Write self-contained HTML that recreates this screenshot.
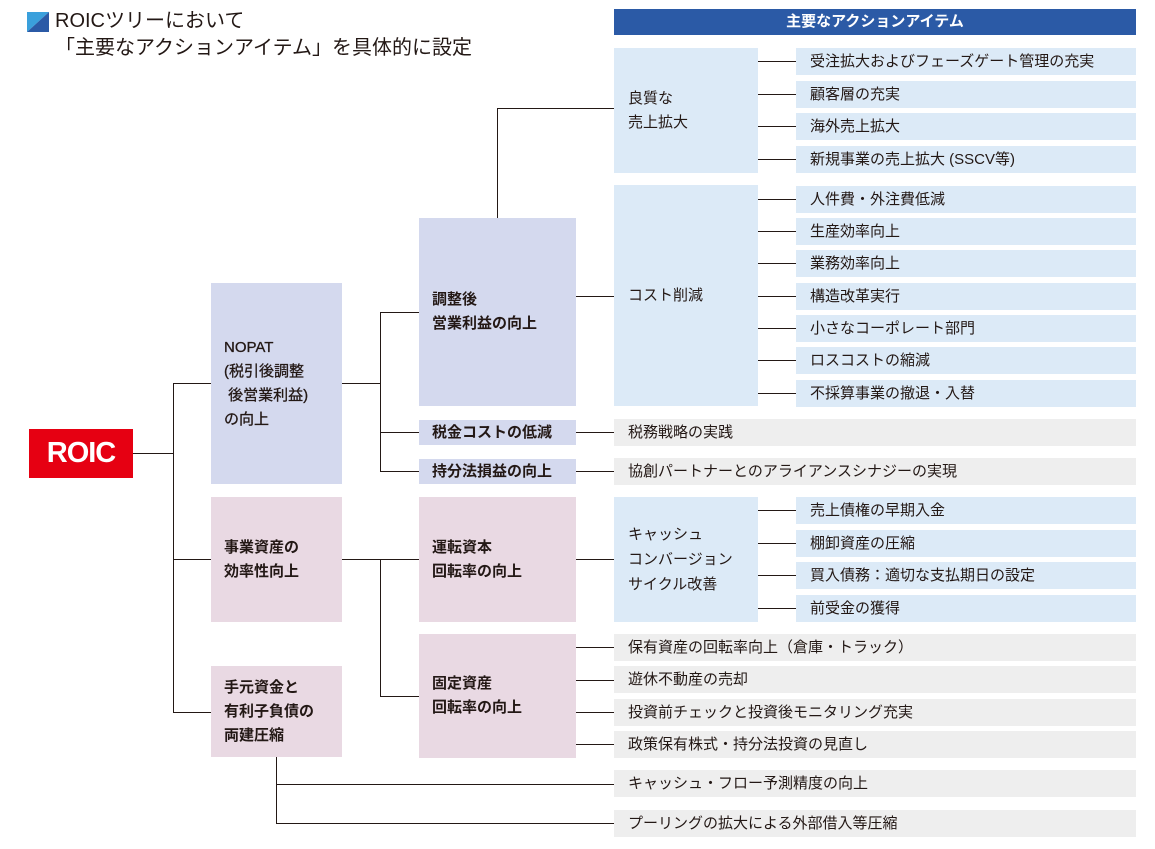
<!DOCTYPE html>
<html><head><meta charset="utf-8">
<style>
*{margin:0;padding:0;box-sizing:border-box}
body{width:1155px;height:849px;background:#fff;position:relative;overflow:hidden;font-family:"Liberation Sans","Noto Sans CJK JP",sans-serif;color:#231815}
.a{position:absolute}
.it{position:absolute;height:27px;line-height:27px;font-size:15px;padding-left:14px;white-space:nowrap}
.b{background:#dceaf7}
.g{background:#eeeeee}
.p{background:#d4d9ee}
.k{background:#e9d9e3}
.bx{position:absolute;font-size:15px;font-weight:bold;line-height:24px;padding-left:13px;display:flex;flex-direction:column;justify-content:center}
.bn{position:absolute;font-size:15px;line-height:24px;padding-left:14px;display:flex;flex-direction:column;justify-content:center}
.h{position:absolute;height:1.3px;background:#231815}
.v{position:absolute;width:1.3px;background:#231815}
</style></head><body>
<svg class="a" style="left:27px;top:12px" width="22" height="20"><polygon points="0,0 22,0 0,20" fill="#3aa0dc"/><polygon points="22,0 22,20 0,20" fill="#2b5aa6"/></svg>
<div class="a" style="left:55px;top:8px;font-size:20px;line-height:27px">ROICツリーにおいて<br>「主要なアクションアイテム」を具体的に設定</div>

<div class="a" style="left:614px;top:9px;width:522px;height:26px;background:#2b5aa6;color:#fff;font-weight:bold;font-size:15px;line-height:26px;text-align:center">主要なアクションアイテム</div>

<div class="bn b" style="left:614px;top:48px;width:144px;height:125px">良質な<br>売上拡大</div>
<div class="it b" style="left:796px;top:48px;width:340px">受注拡大およびフェーズゲート管理の充実</div>
<div class="it b" style="left:796px;top:81px;width:340px">顧客層の充実</div>
<div class="it b" style="left:796px;top:113px;width:340px">海外売上拡大</div>
<div class="it b" style="left:796px;top:146px;width:340px">新規事業の売上拡大 (SSCV等)</div>

<div class="bn b" style="left:614px;top:185px;width:144px;height:221px">コスト削減</div>
<div class="it b" style="left:796px;top:186px;width:340px">人件費・外注費低減</div>
<div class="it b" style="left:796px;top:218px;width:340px">生産効率向上</div>
<div class="it b" style="left:796px;top:250px;width:340px">業務効率向上</div>
<div class="it b" style="left:796px;top:283px;width:340px">構造改革実行</div>
<div class="it b" style="left:796px;top:315px;width:340px">小さなコーポレート部門</div>
<div class="it b" style="left:796px;top:347px;width:340px">ロスコストの縮減</div>
<div class="it b" style="left:796px;top:380px;width:340px">不採算事業の撤退・入替</div>

<div class="it g" style="left:614px;top:419px;width:522px">税務戦略の実践</div>
<div class="it g" style="left:614px;top:458px;width:522px">協創パートナーとのアライアンスシナジーの実現</div>

<div class="bn b" style="left:614px;top:497px;width:144px;height:125px;line-height:25px">キャッシュ<br>コンバージョン<br>サイクル改善</div>
<div class="it b" style="left:796px;top:497px;width:340px">売上債権の早期入金</div>
<div class="it b" style="left:796px;top:530px;width:340px">棚卸資産の圧縮</div>
<div class="it b" style="left:796px;top:562px;width:340px">買入債務：適切な支払期日の設定</div>
<div class="it b" style="left:796px;top:595px;width:340px">前受金の獲得</div>

<div class="it g" style="left:614px;top:634px;width:522px">保有資産の回転率向上（倉庫・トラック）</div>
<div class="it g" style="left:614px;top:666px;width:522px">遊休不動産の売却</div>
<div class="it g" style="left:614px;top:699px;width:522px">投資前チェックと投資後モニタリング充実</div>
<div class="it g" style="left:614px;top:731px;width:522px">政策保有株式・持分法投資の見直し</div>
<div class="it g" style="left:614px;top:770px;width:522px">キャッシュ・フロー予測精度の向上</div>
<div class="it g" style="left:614px;top:810px;width:522px">プーリングの拡大による外部借入等圧縮</div>

<!-- level 2 -->
<div class="bx p" style="left:419px;top:218px;width:157px;height:188px">調整後<br>営業利益の向上</div>
<div class="bx p" style="left:419px;top:420px;width:157px;height:25px">税金コストの低減</div>
<div class="bx p" style="left:419px;top:459px;width:157px;height:25px">持分法損益の向上</div>
<div class="bx k" style="left:419px;top:497px;width:157px;height:125px">運転資本<br>回転率の向上</div>
<div class="bx k" style="left:419px;top:634px;width:157px;height:124px">固定資産<br>回転率の向上</div>

<!-- level 1 -->
<div class="bx p" style="left:211px;top:283px;width:131px;height:201px;font-weight:normal;-webkit-text-stroke:0.3px #231815">NOPAT<br>(税引後調整<br>&nbsp;後営業利益)<br>の向上</div>
<div class="bx k" style="left:211px;top:497px;width:131px;height:125px">事業資産の<br>効率性向上</div>
<div class="bx k" style="left:211px;top:666px;width:131px;height:91px">手元資金と<br>有利子負債の<br>両建圧縮</div>

<div class="a" style="left:29px;top:429px;width:104px;height:49px;background:#e60012;color:#fff;font-weight:bold;font-size:29px;line-height:49px;text-align:center;letter-spacing:-1px">ROIC</div>

<!-- connectors -->
<div class="h" style="left:133px;top:453px;width:40px"></div>
<div class="v" style="left:173px;top:383px;height:330px"></div>
<div class="h" style="left:173px;top:383px;width:38px"></div>
<div class="h" style="left:173px;top:559px;width:38px"></div>
<div class="h" style="left:173px;top:712px;width:38px"></div>

<div class="h" style="left:342px;top:383px;width:38px"></div>
<div class="v" style="left:380px;top:312px;height:160px"></div>
<div class="h" style="left:380px;top:312px;width:39px"></div>
<div class="h" style="left:380px;top:432px;width:39px"></div>
<div class="h" style="left:380px;top:471px;width:39px"></div>

<div class="h" style="left:342px;top:559px;width:38px"></div>
<div class="v" style="left:380px;top:559px;height:137px"></div>
<div class="h" style="left:380px;top:559px;width:39px"></div>
<div class="h" style="left:380px;top:696px;width:39px"></div>

<div class="v" style="left:497px;top:108px;height:110px"></div>
<div class="h" style="left:497px;top:108px;width:117px"></div>
<div class="h" style="left:576px;top:296px;width:38px"></div>
<div class="h" style="left:576px;top:432px;width:38px"></div>
<div class="h" style="left:576px;top:471px;width:38px"></div>
<div class="h" style="left:576px;top:559px;width:38px"></div>
<div class="h" style="left:576px;top:647px;width:38px"></div>
<div class="h" style="left:576px;top:680px;width:38px"></div>
<div class="h" style="left:576px;top:712px;width:38px"></div>
<div class="h" style="left:576px;top:744px;width:38px"></div>

<div class="v" style="left:276px;top:757px;height:67px"></div>
<div class="h" style="left:276px;top:784px;width:338px"></div>
<div class="h" style="left:276px;top:823px;width:338px"></div>

<div class="h" style="left:758px;top:61px;width:38px"></div>
<div class="h" style="left:758px;top:94px;width:38px"></div>
<div class="h" style="left:758px;top:126px;width:38px"></div>
<div class="h" style="left:758px;top:159px;width:38px"></div>
<div class="h" style="left:758px;top:199px;width:38px"></div>
<div class="h" style="left:758px;top:231px;width:38px"></div>
<div class="h" style="left:758px;top:263px;width:38px"></div>
<div class="h" style="left:758px;top:296px;width:38px"></div>
<div class="h" style="left:758px;top:328px;width:38px"></div>
<div class="h" style="left:758px;top:360px;width:38px"></div>
<div class="h" style="left:758px;top:393px;width:38px"></div>
<div class="h" style="left:758px;top:510px;width:38px"></div>
<div class="h" style="left:758px;top:543px;width:38px"></div>
<div class="h" style="left:758px;top:575px;width:38px"></div>
<div class="h" style="left:758px;top:608px;width:38px"></div>
</body></html>
